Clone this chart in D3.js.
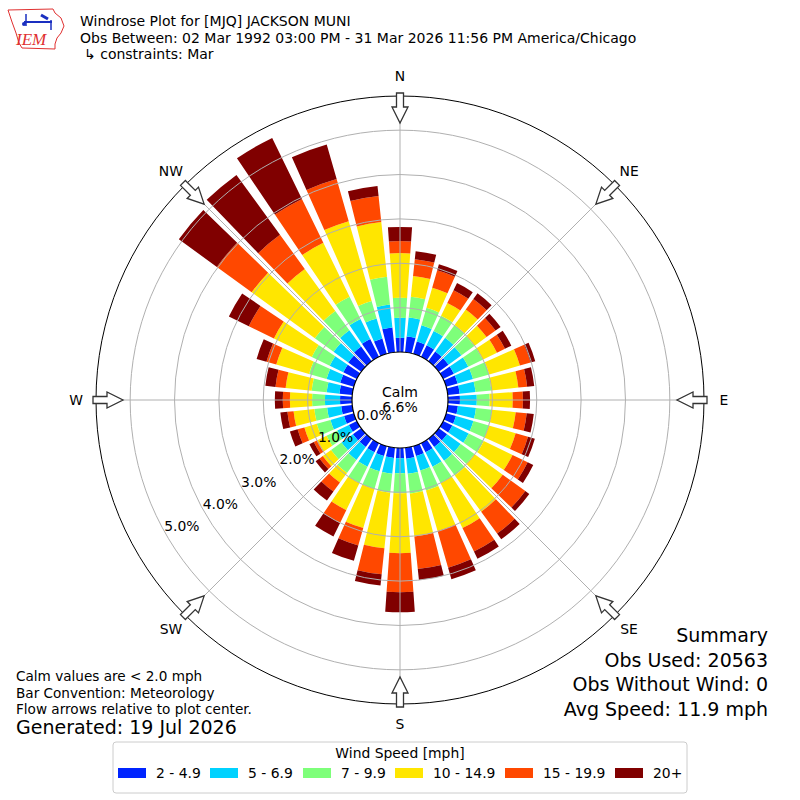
<!DOCTYPE html>
<html>
<head>
<meta charset="utf-8">
<script src="https://cdn.jsdelivr.net/npm/d3@7"></script>
<style>
  html, body { margin: 0; padding: 0; background: #fff; }
  svg { display: block; font-family: "DejaVu Sans", sans-serif; }
</style>
</head>
<body>
<svg id="chart" width="800" height="800"></svg>
<script>
// ---------------- DATA ----------------
const directions = [0,10,20,30,40,50,60,70,80,90,100,110,120,130,140,150,160,170,
                    180,190,200,210,220,230,240,250,260,270,280,290,300,310,320,330,340,350];
const speedBins = ["2 - 4.9", "5 - 6.9", "7 - 9.9", "10 - 14.9", "15 - 19.9", "20+"];
const binColors = ["#0024ff", "#00d2ff", "#7eff7a", "#ffe600", "#ff4800", "#800000"];
// percent of observations per direction, per speed bin
const s2to5   = [0.32,0.36,0.29,0.29,0.27,0.27,0.27,0.27,0.27,0.27,0.23,0.23,0.23,0.23,0.23,0.23,0.23,0.25,
                 0.23,0.23,0.23,0.23,0.23,0.23,0.20,0.23,0.25,0.27,0.29,0.32,0.34,0.36,0.41,0.45,0.36,0.56];
const s5to7   = [0.45,0.43,0.38,0.36,0.38,0.36,0.36,0.36,0.36,0.38,0.41,0.41,0.41,0.38,0.38,0.36,0.34,0.34,
                 0.34,0.36,0.36,0.36,0.36,0.32,0.29,0.32,0.32,0.34,0.29,0.32,0.34,0.41,0.45,0.50,0.47,0.52];
const s7to10  = [0.45,0.47,0.41,0.38,0.36,0.36,0.36,0.38,0.36,0.29,0.36,0.36,0.38,0.38,0.41,0.41,0.47,0.45,
                 0.45,0.43,0.41,0.41,0.36,0.29,0.27,0.32,0.29,0.29,0.34,0.41,0.45,0.52,0.54,0.56,0.41,0.63];
const s10to15 = [1.01,0.47,0.47,0.32,0.43,0.34,0.36,0.72,0.61,0.52,0.54,0.63,0.72,0.79,1.01,1.13,0.95,0.97,
                 1.35,1.26,0.92,0.68,0.27,0.23,0.23,0.29,0.47,0.50,0.59,0.77,0.95,1.76,1.17,1.35,1.87,1.24];
const s15to20 = [0.27,0.38,0.41,0.32,0.29,0.25,0.20,0.25,0.20,0.23,0.25,0.29,0.38,0.63,0.61,0.59,0.86,0.74,
                 0.88,0.59,0.41,0.32,0.25,0.09,0.09,0.16,0.14,0.16,0.23,0.23,0.63,0.97,0.95,1.10,0.99,0.59];
const s20plus = [0.32,0.18,0.14,0.18,0.16,0.14,0.16,0.11,0.16,0.16,0.16,0.16,0.14,0.11,0.16,0.18,0.27,0.25,
                 0.45,0.25,0.36,0.34,0.25,0.11,0.11,0.18,0.16,0.18,0.23,0.23,0.50,1.06,1.67,1.53,0.81,0.23];
const seriesValues = [s2to5, s5to7, s7to10, s10to15, s15to20, s20plus];
const radialTicks = [0, 1, 2, 3, 4, 5];
const radialTickLabels = ["0.0%", "1.0%", "2.0%", "3.0%", "4.0%", "5.0%"];
const compassAngles = [0, 45, 90, 135, 180, 225, 270, 315];
const compassLabels = ["N", "NE", "E", "SE", "S", "SW", "W", "NW"];
const calmPercent = "6.6%";
const titleLines = [
  "Windrose Plot for [MJQ] JACKSON MUNI",
  "Obs Between: 02 Mar 1992 03:00 PM - 31 Mar 2026 11:56 PM America/Chicago",
  "\u21b3 constraints: Mar"
];
const noteLines = ["Calm values are < 2.0 mph", "Bar Convention: Meteorology", "Flow arrows relative to plot center."];
const generatedText = "Generated: 19 Jul 2026";
const summaryLines = ["Summary", "Obs Used: 20563", "Obs Without Wind: 0", "Avg Speed: 11.9 mph"];
const legendTitle = "Wind Speed [mph]";

// ---------------- LAYOUT ----------------
const svg = d3.select("#chart");
const cx = 400, cy = 400;
const calmR = 48, outerR = 304;
const rScale = d3.scaleLinear().domain([0, 5.77]).range([calmR, outerR]);
const angle = d3.scaleLinear().domain([0, 360]).range([0, 2 * Math.PI]);
const barHalfWidth = 4; // degrees (opening 0.8 of 10 deg sector)

const g = svg.append("g").attr("transform", `translate(${cx},${cy})`);

// stacked records
const records = [];
directions.forEach((dir, i) => {
  let cum = 0;
  seriesValues.forEach((vals, k) => {
    const v0 = cum; cum += vals[i];
    records.push({dir, k, v0, v1: cum});
  });
});

const arc = d3.arc()
  .innerRadius(d => rScale(d.v0))
  .outerRadius(d => rScale(d.v1))
  .startAngle(d => angle(d.dir - barHalfWidth))
  .endAngle(d => angle(d.dir + barHalfWidth));

g.append("g").selectAll("path").data(records).join("path")
  .attr("d", arc)
  .attr("fill", d => binColors[d.k]);

// grid rings
g.append("g").selectAll("circle").data(radialTicks.filter(t => t > 0)).join("circle")
  .attr("r", d => rScale(d)).attr("fill", "none")
  .attr("stroke", "#b0b0b0").attr("stroke-width", 1);

// radial grid lines
g.append("g").selectAll("line").data(compassAngles).join("line")
  .attr("x1", d => calmR * Math.sin(angle(d)))
  .attr("y1", d => -calmR * Math.cos(angle(d)))
  .attr("x2", d => outerR * Math.sin(angle(d)))
  .attr("y2", d => -outerR * Math.cos(angle(d)))
  .attr("stroke", "#b0b0b0").attr("stroke-width", 1);

// outer circle
g.append("circle").attr("r", outerR).attr("fill", "none").attr("stroke", "#000").attr("stroke-width", 1);

// calm circle
g.append("circle").attr("r", calmR).attr("fill", "#fff").attr("stroke", "#000").attr("stroke-width", 1.2);
g.append("text").attr("x", 0).attr("y", -3).attr("text-anchor", "middle")
  .style("font-size", "14px").text("Calm");
g.append("text").attr("x", 0).attr("y", 12).attr("text-anchor", "middle")
  .style("font-size", "14px").text(calmPercent);

// radial tick labels along 240 deg
const labelDir = 240, labelInset = 18;
g.append("g").selectAll("text").data(radialTicks).join("text")
  .attr("x", d => (rScale(d) - labelInset) * Math.sin(angle(labelDir)))
  .attr("y", d => -(rScale(d) - labelInset) * Math.cos(angle(labelDir)) + 5)
  .attr("text-anchor", "middle")
  .style("font-size", "13.9px")
  .text((d, i) => radialTickLabels[i]);

// arrows
const arrowShape = [[0,-3.5],[14,-3.5],[14,-8],[30,0],[14,8],[14,3.5],[0,3.5]];
const arrowStart = outerR + 3;
g.append("g").selectAll("path").data(compassAngles).join("path")
  .attr("d", a => {
    const t = angle(a), ux = Math.sin(t), uy = -Math.cos(t), px = Math.cos(t), py = Math.sin(t);
    const pts = arrowShape.map(([al, ac]) => [(arrowStart - al) * ux + ac * px, (arrowStart - al) * uy + ac * py]);
    return d3.line()(pts) + "Z";
  })
  .attr("fill", "#fff").attr("stroke", "#333").attr("stroke-width", 1.3);

// compass labels
g.append("g").selectAll("text").data(compassAngles).join("text")
  .attr("x", d => 324 * Math.sin(angle(d)))
  .attr("y", d => -324 * Math.cos(angle(d)) + 5)
  .attr("text-anchor", "middle")
  .style("font-size", "13.9px")
  .text((d, i) => compassLabels[i]);

// ---------------- TEXT ----------------
svg.append("g").selectAll("text").data(titleLines).join("text")
  .attr("x", (d, i) => i === 2 ? 84 : 80)
  .attr("y", (d, i) => 26 + i * 16.5)
  .style("font-size", "14px")
  .text(d => d);

svg.append("g").selectAll("text").data(noteLines).join("text")
  .attr("x", 16).attr("y", (d, i) => 681 + i * 16.5)
  .style("font-size", "13.6px").text(d => d);
svg.append("text").attr("x", 16).attr("y", 734).style("font-size", "19px").text(generatedText);

svg.append("g").selectAll("text").data(summaryLines).join("text")
  .attr("x", 768).attr("y", (d, i) => 642 + i * 24.5)
  .attr("text-anchor", "end")
  .style("font-size", "19px").text(d => d);

// ---------------- LEGEND ----------------
const leg = svg.append("g");
leg.append("rect").attr("x", 113).attr("y", 742).attr("width", 574).attr("height", 51)
  .attr("rx", 3).attr("fill", "#fff").attr("stroke", "#cccccc");
leg.append("text").attr("x", 400).attr("y", 758).attr("text-anchor", "middle")
  .style("font-size", "13.9px").text(legendTitle);
const legX = [118, 210, 303, 395, 505, 615];
const items = leg.selectAll("g.item").data(speedBins).join("g").attr("class", "item")
  .attr("transform", (d, i) => `translate(${legX[i]},768)`);
items.append("rect").attr("width", 28).attr("height", 10).attr("fill", (d, i) => binColors[i]);
items.append("text").attr("x", 38).attr("y", 10).style("font-size", "13.9px").text(d => d);

// ---------------- LOGO ----------------
const logo = svg.append("g");
logo.append("path")
  .attr("d", "M8,10 L53,9 L55,13 L61,18 L64,26 L61,33 L57,38 L55,44 L55,49 L22,48 L19,43 L16,33 L12,22 Z")
  .attr("fill", "none").attr("stroke", "#e03030").attr("stroke-width", 1);
logo.append("line").attr("x1", 24).attr("y1", 22).attr("x2", 52).attr("y2", 22).attr("stroke", "#1a2fc0").attr("stroke-width", 2);
logo.append("line").attr("x1", 26).attr("y1", 14).attr("x2", 26).attr("y2", 26).attr("stroke", "#1a2fc0").attr("stroke-width", 1.5);
logo.append("line").attr("x1", 41).attr("y1", 15).attr("x2", 48).attr("y2", 19).attr("stroke", "#1a2fc0").attr("stroke-width", 3);
logo.append("line").attr("x1", 51).attr("y1", 20).attr("x2", 51).attr("y2", 30).attr("stroke", "#1a2fc0").attr("stroke-width", 1.5);
logo.append("circle").attr("cx", 24).attr("cy", 24).attr("r", 2).attr("fill", "#1a2fc0");
logo.append("text").attr("x", 16).attr("y", 45)
  .style("font-family", "'Liberation Serif', 'DejaVu Serif', serif").style("font-style", "italic")
  .style("font-size", "17px").attr("fill", "#e03030").text("IEM");
</script>
</body>
</html>
